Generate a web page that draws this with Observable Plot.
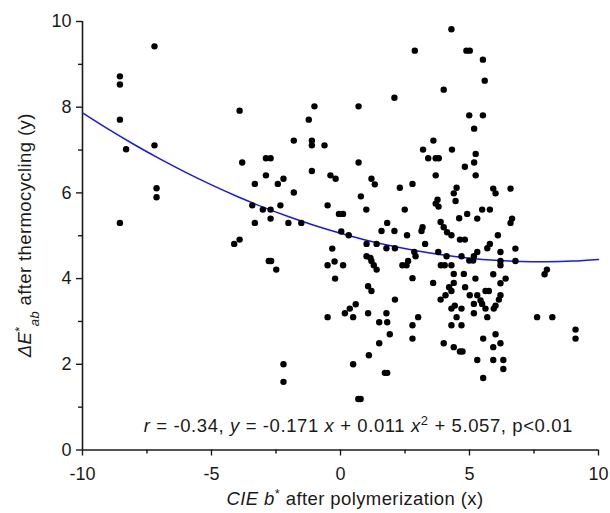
<!DOCTYPE html>
<html><head><meta charset="utf-8">
<script src="https://cdn.jsdelivr.net/npm/d3@7"></script>
<script src="https://cdn.jsdelivr.net/npm/@observablehq/plot@0.6"></script>
<style>body{margin:0;background:#fff} svg{display:block}</style>
</head><body><div id="chart"></div>
<script>
// scatter data: CIE b* after polymerization (x), ΔE*ab after thermocycling (y)
const ptsX = [
 -8.55,-8.55,-8.55,-8.55,-8.31,-7.21,-7.21,-7.13,-7.13,
 -3.91,-1.01,-1.23,-1.81,-1.11,-1.11,-0.62,-3.81,-2.89,-2.71,-2.89,-2.21,-1.11,-0.39,-0.19,
 -3.32,-2.43,-1.81,-3.42,-3.01,-2.71,-2.33,-3.32,-2.71,-2.02,-1.52,-0.50,-0.06,-4.12,-3.91,-2.78,-2.69,-2.49,-0.32,-0.50,-0.23,-0.21,-0.50,
 -2.21,-2.21,
 4.30,2.88,4.88,5.01,4.00,2.09,0.70,4.99,5.18,3.60,3.20,4.32,3.40,3.69,3.81,0.70,4.82,5.18,5.24,3.69,1.20,5.24,
 5.52,5.59,5.52,
 1.33,2.30,2.79,0.79,4.50,4.39,3.76,3.69,3.80,4.46,1.00,2.49,0.10,4.91,4.60,1.81,1.59,2.09,3.88,4.00,
 4.13,3.18,3.14,2.58,4.30,0.03,0.32,3.28,4.63,4.82,1.01,1.40,1.78,2.11,3.79,4.11,2.86,2.91,4.69,4.99,
 5.14,1.01,1.16,1.20,1.29,1.40,2.62,2.56,2.40,0.10,3.89,4.04,4.30,4.39,4.78,2.79,3.59,4.39,1.07,1.20,
 4.21,4.30,4.83,4.07,5.01,2.11,3.88,0.59,0.36,0.17,0.49,1.07,1.78,1.81,1.50,3.01,4.43,4.30,4.69,4.50,
 2.79,4.30,4.69,
 5.92,6.01,6.59,5.49,5.79,5.30,6.65,6.59,6.10,5.79,5.69,6.20,5.30,5.17,6.78,6.20,6.78,6.20,8.00,7.91,
 5.23,5.92,6.40,6.20,5.75,5.62,5.30,6.20,6.14,5.43,5.49,5.17,5.62,6.01,5.94,5.17,5.69,7.62,8.21,9.11,
 9.11,5.53,6.01,6.20,5.92,5.30,5.92,6.31,6.31,5.53,
 1.91,1.50,2.79,4.00,4.39,4.63,4.73,1.10,0.49,1.72,1.81,0.69,0.78
];
const ptsY = [
 8.72,8.53,7.71,5.30,7.02,9.42,7.11,6.11,5.90,
 7.92,8.02,7.71,7.22,7.22,7.11,7.11,6.71,6.81,6.81,6.41,6.33,6.51,6.41,6.33,
 6.21,6.21,6.01,5.71,5.61,5.61,5.71,5.30,5.40,5.30,5.30,5.71,5.51,4.81,4.91,4.41,4.41,4.21,4.70,4.31,4.40,4.00,3.10,
 2.00,1.59,
 9.82,9.32,9.32,9.32,8.41,8.22,8.02,7.81,7.50,7.22,7.01,7.01,6.81,6.81,6.81,6.71,6.61,6.71,6.91,6.41,6.33,6.41,
 9.11,8.62,7.81,
 6.20,6.12,6.21,5.92,6.12,5.99,5.84,5.75,5.68,5.81,5.61,5.61,5.51,5.51,5.41,5.30,5.11,5.11,5.32,5.20,
 5.08,5.20,5.11,5.01,5.01,5.10,5.01,4.81,4.91,4.91,4.81,4.81,4.71,4.71,4.62,4.52,4.62,4.52,4.52,4.42,
 4.42,4.52,4.48,4.41,4.31,4.21,4.41,4.31,4.31,4.31,4.31,4.31,4.31,4.11,4.11,4.01,3.90,3.90,3.82,3.71,
 3.80,3.71,3.80,3.61,3.61,3.51,3.51,3.40,3.30,3.19,3.10,3.19,3.19,2.98,2.98,3.10,3.37,3.30,3.30,3.10,
 2.91,2.91,2.91,
 6.10,5.99,6.10,5.61,5.61,5.40,5.40,5.30,5.01,4.81,4.71,4.62,4.62,4.52,4.70,4.41,4.41,4.31,4.21,4.10,
 4.00,4.10,4.00,3.89,3.71,3.71,3.61,3.61,3.51,3.49,3.41,3.41,3.30,3.37,3.30,3.19,3.10,3.10,3.10,2.81,
 2.60,2.60,2.70,2.49,2.40,2.10,2.10,2.10,1.89,1.68,
 2.70,2.49,2.60,2.49,2.40,2.30,2.30,2.21,2.00,1.80,1.80,1.19,1.19
];
// fitted curve
const fitX = [-10,-9,-8,-7,-6,-5,-4,-3,-2,-1,0,1,2,3,4,5,6,7,8,9,10];
const fitY = [7.867,7.487,7.129,6.793,6.479,6.187,5.917,5.669,5.443,5.239,5.057,4.897,4.759,4.643,4.549,4.477,4.427,4.399,4.393,4.408,4.447];
const xTicks = [-10,-5,0,5,10];
const xMinor = [-7.5,-2.5,2.5,7.5];
const yTicks = [0,2,4,6,8,10];
const yMinor = [1,3,5,7,9];

const points = ptsX.map((x,i)=>({x, y: ptsY[i]}));
const fit = fitX.map((x,i)=>({x, y: fitY[i]}));
const ink = "#1a1a1a";
const fmt = d => String(d);

const chart = Plot.plot({
  width: 610, height: 513,
  marginLeft: 82, marginRight: 12, marginTop: 21, marginBottom: 63.5,
  style: {fontFamily: "'Liberation Sans', Arial, sans-serif", fontSize: "18px", color: ink, background: "#fff"},
  x: {domain: [-10, 10]},
  y: {domain: [0, 10]},
  marks: [
    Plot.axisX({ticks: xTicks, tickSize: 6, tickPadding: 11, fontSize: 18, tickFormat: fmt, label: null, strokeWidth: 1.4}),
    Plot.axisX({ticks: xMinor, tickSize: 4, tickFormat: () => "", label: null, strokeWidth: 1.4}),
    Plot.axisY({ticks: yTicks, tickSize: 6, tickPadding: 5, fontSize: 18, tickFormat: fmt, label: null, strokeWidth: 1.4}),
    Plot.axisY({ticks: yMinor, tickSize: 4, tickFormat: () => "", label: null, strokeWidth: 1.4}),
    Plot.ruleX([-10], {stroke: ink, strokeWidth: 1.6}),
    Plot.ruleY([0], {stroke: ink, strokeWidth: 1.6}),
    Plot.line(fit, {x: "x", y: "y", stroke: "#1818e8", strokeWidth: 1.5, curve: "natural"}),
    Plot.dot(points, {x: "x", y: "y", r: 3.2, fill: "#000", stroke: null})
  ]
});
document.getElementById("chart").appendChild(chart);

const sx = chart.scale("x"), sy = chart.scale("y");
const svg = d3.select(chart);
const x0 = sx.apply(-10), x1 = sx.apply(10), y0 = sy.apply(0), y1 = sy.apply(10);

function addRich(g, parts) {
  for (const p of parts) {
    const t = g.append("tspan").text(p.t);
    if (p.i) t.attr("font-style", "italic");
    if (p.sup) t.attr("baseline-shift", "super").attr("font-size", "70%");
    if (p.sub) t.attr("baseline-shift", "sub").attr("font-size", "70%");
  }
}

// annotation
const ann = svg.append("text")
  .attr("x", x1 - 25).attr("y", y0 - 18)
  .attr("text-anchor", "end").attr("font-size", 18.5).attr("letter-spacing", "0.6px")
  .attr("fill", ink).style("white-space", "pre");
addRich(ann, [
  {t: "r", i: true}, {t: " = -0.34, "}, {t: "y", i: true}, {t: " = -0.171 "}, {t: "x", i: true},
  {t: " + 0.011 "}, {t: "x", i: true}, {t: "2", sup: true}, {t: " + 5.057, p<0.01"}
]);

// x label
const xl = svg.append("text")
  .attr("x", (x0 + x1) / 2 + 15).attr("y", 505)
  .attr("text-anchor", "middle").attr("font-size", 18.5).attr("letter-spacing", "0.4px")
  .attr("fill", ink).style("white-space", "pre");
addRich(xl, [{t: "CIE b", i: true}, {t: "*", sup: true}, {t: " after polymerization (x)"}]);

// y label
const yl = svg.append("text")
  .attr("transform", `translate(31,${(y0 + y1) / 2}) rotate(-90)`)
  .attr("text-anchor", "middle").attr("font-size", 18.5).attr("letter-spacing", "0.4px")
  .attr("fill", ink).style("white-space", "pre");
addRich(yl, [{t: "ΔE", i: true}, {t: "*", sup: true}, {t: "ab", sub: true, i: true}, {t: " after thermocycling (y)"}]);
</script>
</body></html>
